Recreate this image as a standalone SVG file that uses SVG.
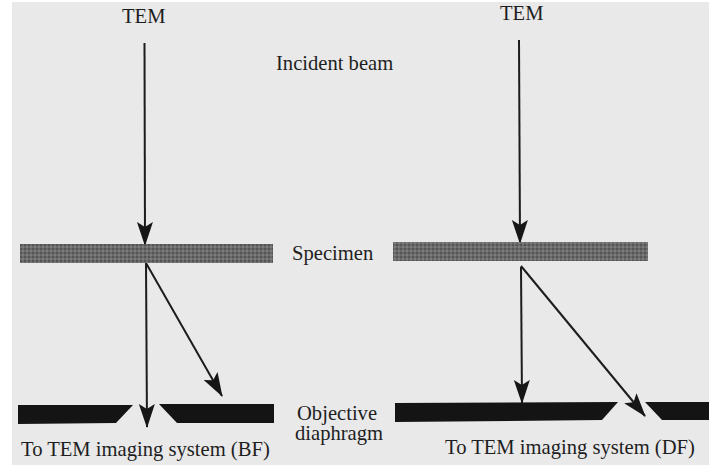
<svg xmlns="http://www.w3.org/2000/svg" width="709" height="465" viewBox="0 0 709 465">
<style>
text{font-family:"Liberation Serif","Times New Roman",serif;font-size:20.600px;fill:#1e1e1e}
.beam{stroke:#1c1c1c;stroke-width:2;fill:none;marker-end:url(#head)}
.spec{fill:url(#grain)}
.dia{fill:#141414}
</style>
<defs>
<marker id="head" viewBox="0 0 24 18" refX="23" refY="9" markerWidth="24" markerHeight="18" markerUnits="userSpaceOnUse" orient="auto">
<path d="M0 1L5 9L0 17L24 9Z" fill="#161616"/>
</marker>
<pattern id="grain" width="4" height="4" patternUnits="userSpaceOnUse">
<rect width="4" height="4" fill="#6a6a6a"/>
<rect width="2" height="2" fill="#555"/>
<rect x="2" y="2" width="2" height="2" fill="#7c7c7c"/>
</pattern>
</defs>
<rect width="709" height="465" fill="#fff"/>
<rect x="12" y="2" width="697" height="463" fill="#e9e9e9"/>
<g id="connectors">
<path class="beam" d="M144.500 43L145 245"/>
<path class="beam" d="M146 263L147 427"/>
<path class="beam" d="M146 263L222 396"/>
<path class="beam" d="M519 40L520 243"/>
<path class="beam" d="M521 267L522 403"/>
<path class="beam" d="M521 266L645 416"/>
</g>
<g id="specimen-bf"><rect class="spec" x="20" y="244" width="253" height="19"/></g>
<g id="specimen-df"><rect class="spec" x="393" y="242" width="255" height="19"/></g>
<g id="diaphragm-bf-left"><path class="dia" d="M18 405L133 405L116 423L18 424Z"/></g>
<g id="diaphragm-bf-right"><path class="dia" d="M159 404L274 404L274 423L177 423Z"/></g>
<g id="diaphragm-df-left"><path class="dia" d="M395 403L618 402L602 420L395 422Z"/></g>
<g id="diaphragm-df-right"><path class="dia" d="M645 402L709 402L709 420L662 420Z"/></g>
<g id="labels">
<text x="122" y="23">TEM</text>
<text x="500" y="20">TEM</text>
<text x="276" y="70">Incident beam</text>
<text x="292" y="260">Specimen</text>
<text x="297" y="420">Objective</text>
<text x="295" y="440">diaphragm</text>
<text x="21" y="456">To TEM imaging system (BF)</text>
<text x="445" y="454">To TEM imaging system (DF)</text>
</g>
</svg>
